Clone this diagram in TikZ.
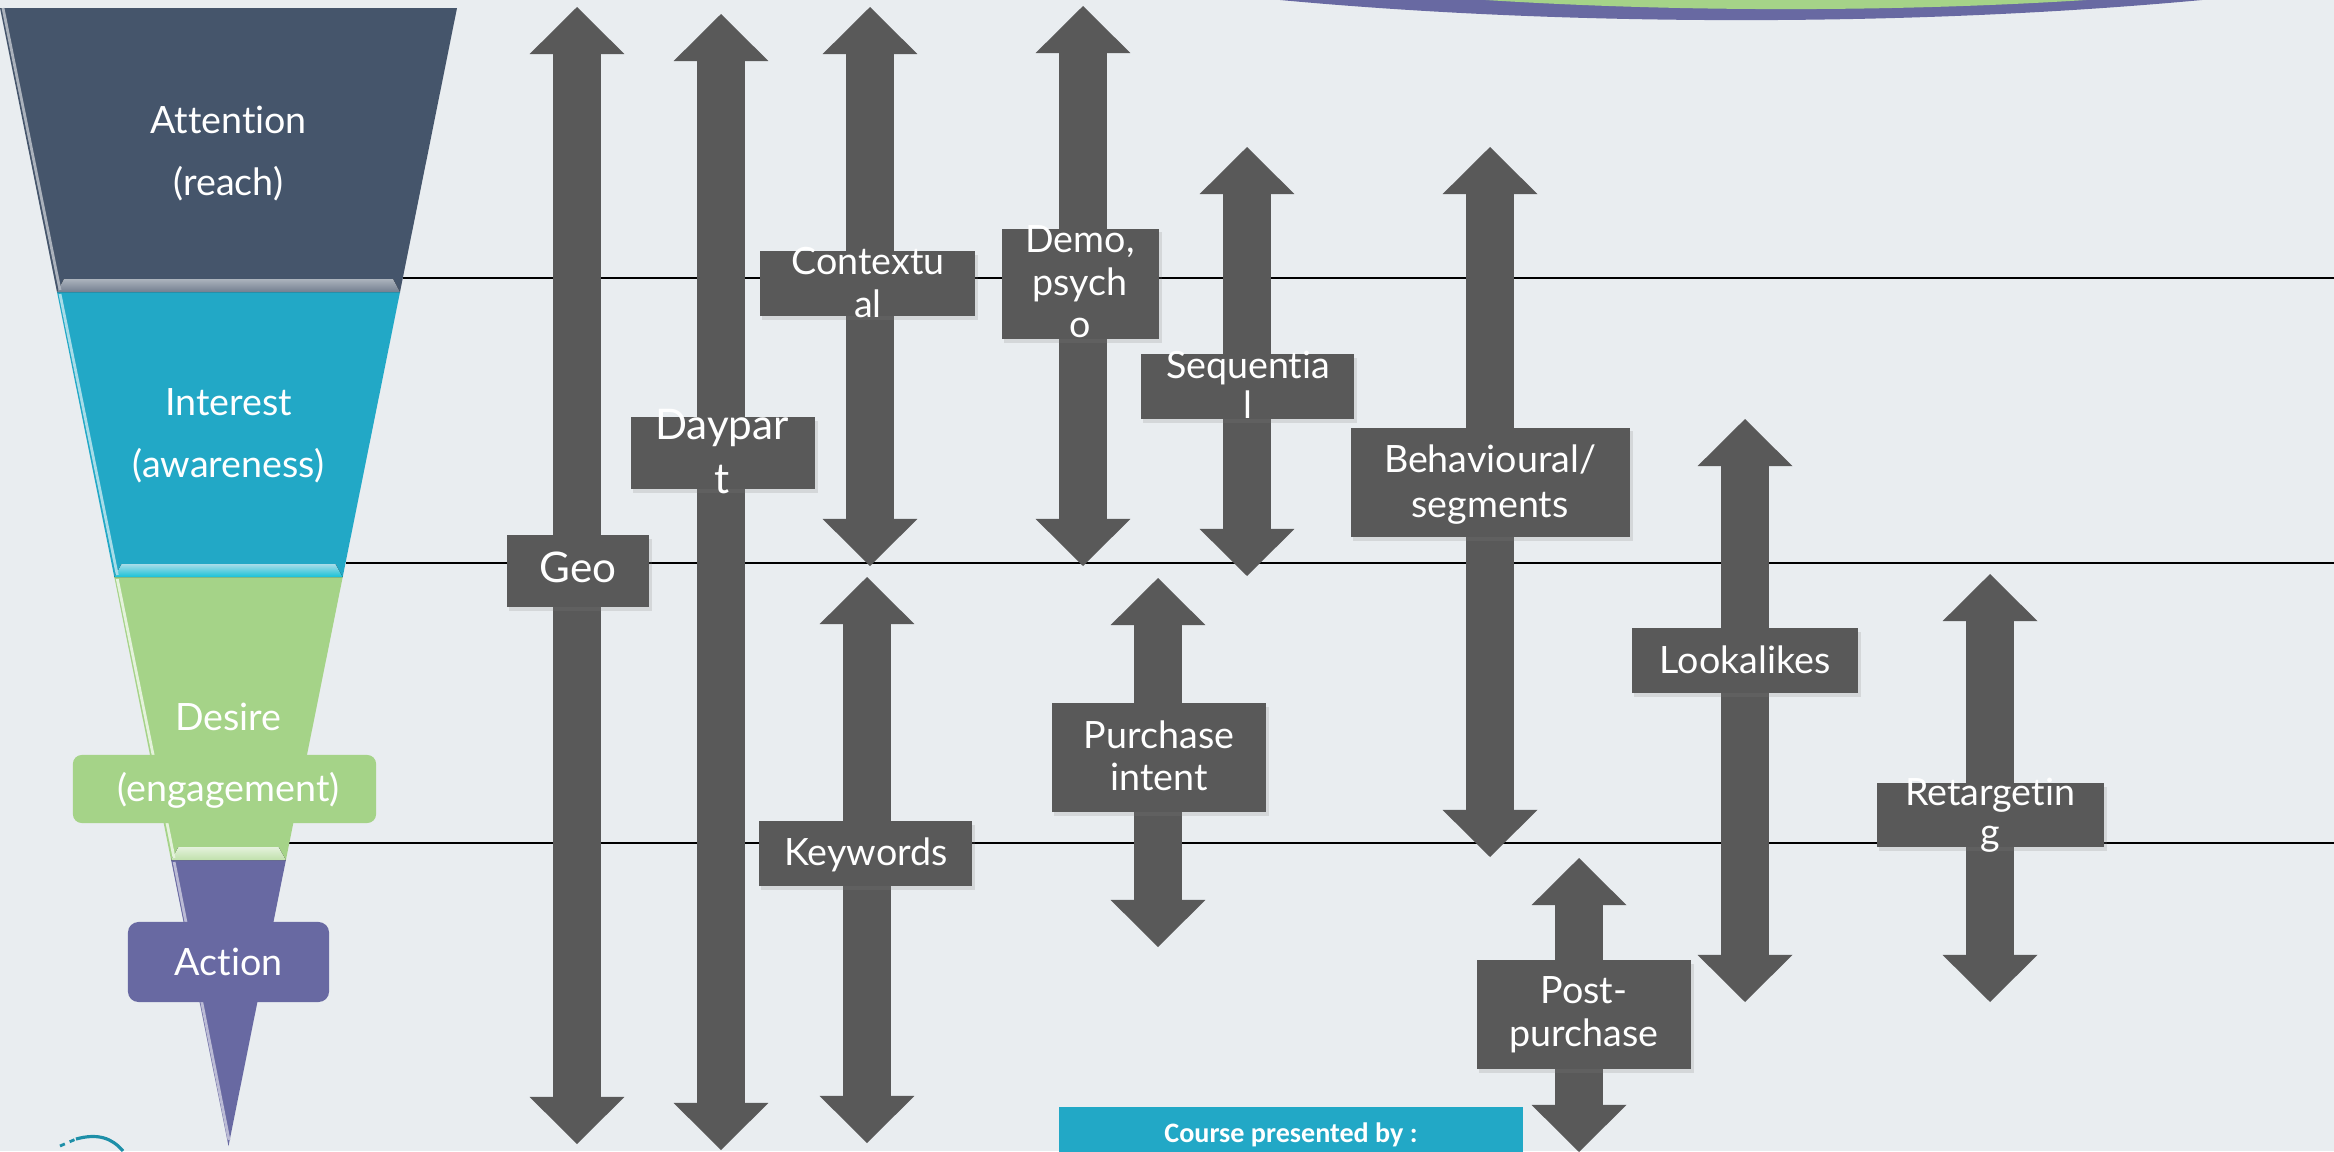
\documentclass[tikz,border=0pt]{standalone}
\usepackage{fontspec}
\setmainfont{Lato}[Ligatures=NoCommon]
\newfontfamily\slidefont{Carlito}
\usetikzlibrary{arrows.meta,shadows}
\definecolor{bgCol}{HTML}{E9EDF0}
\definecolor{tagGrey}{HTML}{595959}
\definecolor{attnCol}{HTML}{45556B}
\definecolor{intrCol}{HTML}{22A8C6}
\definecolor{desiCol}{HTML}{A5D388}
\definecolor{actnCol}{HTML}{6869A2}
\tikzset{
  tag/.style={rectangle,fill=tagGrey,inner sep=0pt,
    drop shadow={shadow xshift=0.7pt,shadow yshift=-1pt,opacity=0.2}},
  tagtext/.style={text=white,inner sep=0pt,align=center,font=\fontsize{10.7}{12.1}\selectfont},
  band/.style={draw=tagGrey,line width=13.9pt,
    {Triangle[width=27pt,length=13.4pt,line width=0pt]}-{Triangle[width=27pt,length=13.4pt,line width=0pt]}},
  level/.style={draw=black,line width=0.5pt},
  stage/.style={text=white,inner sep=0pt,align=center,font=\fontsize{10.7}{17.6}\selectfont},
  pill/.style={rectangle,inner sep=0pt,rounded corners=2.5pt}
}

\begin{document}
\begin{tikzpicture}[x=0.01cm,y=-0.01cm]
  \useasboundingbox (0,0) rectangle (2334,1151);
  \fill[bgCol] (0,0) rectangle (2334,1151);
  \begin{scope}
    \clip (0,0) rectangle (2334,1151);
    \fill[actnCol] (1741,-180) ellipse [x radius=10.53cm,y radius=2cm];
    \fill[desiCol] (1786,-141) ellipse [x radius=8.74cm,y radius=1.5cm];
  \end{scope}
  % levels
  \coordinate (east) at (2334,0);
  \coordinate (lvA) at (403,278);
  \coordinate (lvB) at (346,563);
  \coordinate (lvC) at (289,843);
  \foreach \name in {lvA,lvB,lvC}
    \draw[level] (\name) -- (\name -| east);
  % funnel
  \fill[attnCol] (0,8) -- (457,8) -- (400,292) -- (57,292) -- cycle;
  \fill[intrCol] (57,292) -- (400,292) -- (342.7,577) -- (114.3,577) -- cycle;
  \fill[desiCol] (114.3,577) -- (342.7,577) -- (285.9,860) -- (171.1,860) -- cycle;
  \fill[actnCol] (171.1,860) -- (285.9,860) -- (228.5,1146) -- cycle;
  \fill[top color=attnCol!45!white,bottom color=attnCol!75!white] (64,279) -- (393,279) -- (400,292) -- (57,292) -- cycle;
  \fill[top color=intrCol!40!white,bottom color=intrCol!70!cyan] (121.6,564) -- (335.4,564) -- (342.7,577) -- (114.3,577) -- cycle;
  \fill[top color=desiCol!30!white,bottom color=desiCol!70!white] (178.5,847) -- (278.5,847) -- (285.9,860) -- (171.1,860) -- cycle;
  \draw[attnCol!45!white,line width=0.8pt] (3,8) -- (60,290);
  \draw[intrCol!40!white,line width=0.8pt] (60,294) -- (117.3,575);
  \draw[desiCol!30!white,line width=0.8pt] (117.3,579) -- (174.1,858);
  \draw[actnCol!45!white,line width=0.8pt] (174.1,862) -- (229,1140);
  \node[pill,fill=desiCol,minimum width=3.03cm,minimum height=0.68cm] (engBox) at (224.5,789) {};
  \node[pill,fill=actnCol,minimum width=2.01cm,minimum height=0.8cm,rounded corners=3pt] (actBox) at (228.5,962) {};
  \node[stage,anchor=north] (attn) at (228.5,105) {Attention\\(reach)};
  \node[stage,anchor=north] (intr) at (228.5,388) {Interest\\(awareness)};
  \node[stage,anchor=base] (desi) at (228.5,730) {Desire};
  \node[stage,anchor=base] (engm) at (228.5,801) {(engagement)};
  \node[stage,anchor=base] (actn) at (228.5,975) {Action};
  % targeting arrows
  \foreach \x/\ya/\yb/\name in {577/7/1144/geo, 721/14/1150/daypart, 870/7/566/contextual,
      867/577/1143/keywords, 1083/6/566/demo, 1158/578/947/purchase, 1247/147/576/sequential,
      1490/147/857/behavioural, 1579/858/1152/postpurchase, 1745/419/1002/lookalikes,
      1990/574/1002/retargeting}
  {
    \coordinate (\name T) at (\x,\ya);
    \coordinate (\name B) at (\x,\yb);
    \draw[band] (\name T) -- (\name B);
  }
  \foreach \pos/\w/\h/\name in {{(578,571)/1.42/0.72/geo}, {(723,453)/1.84/0.72/daypart},
      {(867.5,283.5)/2.15/0.65/contextual}, {(1080.5,284)/1.57/1.10/demo},
      {(1247.5,386.5)/2.13/0.65/sequential}, {(1490.5,482.5)/2.79/1.09/behavioural},
      {(865.5,853.5)/2.13/0.65/keywords}, {(1159,757.5)/2.14/1.09/purchase},
      {(1584,1014.5)/2.14/1.09/postpurchase}, {(1745,660.5)/2.26/0.65/lookalikes},
      {(1990.5,815)/2.27/0.64/retargeting}}
    \node[tag,minimum width=\w cm,minimum height=\h cm] (\name Box) at \pos {};
  \node[tagtext,anchor=base,font=\fontsize{12}{15}\selectfont] (geoTxt) at (578,582) {Geo};
  \node[tagtext,anchor=north,font=\fontsize{12}{15.1}\selectfont] (daypartTxt) at (722,409) {Daypar\\t};
  \node[tagtext,anchor=north] (contextualTxt) at (868,247) {Contextu\\al};
  \node[tagtext,anchor=north] (demoTxt) at (1080,225) {Demo,\\psych\\o};
  \node[tagtext,anchor=north,font=\fontsize{10.7}{11.4}\selectfont] (sequentialTxt) at (1248,350) {Sequentia\\l};
  \node[tagtext,anchor=north,font=\fontsize{10.7}{12.8}\selectfont] (behaviouralTxt) at (1490,444) {Behavioural/\\segments};
  \node[tagtext,anchor=base] (keywordsTxt) at (866,865) {Keywords};
  \node[tagtext,anchor=north] (purchaseTxt) at (1159,720) {Purchase\\intent};
  \node[tagtext,anchor=north] (postpurchaseTxt) at (1584,976) {Post-\\purchase};
  \node[tagtext,anchor=base] (lookalikesTxt) at (1745,673) {Lookalikes};
  \node[tagtext,anchor=north,font=\fontsize{10.7}{11.4}\selectfont] (retargetingTxt) at (1990,777) {Retargetin\\g};
  % footer
  \node[rectangle,fill=intrCol,inner sep=0pt,minimum width=4.64cm,minimum height=0.6cm] (courseBox) at (1291,1137) {};
  \node[text=white,inner sep=0pt,anchor=base,font=\slidefont\bfseries\fontsize{8}{10}\selectfont] (courseTxt) at (1291,1142) {Course presented by :};
  \draw[intrCol!85!black,line width=0.9pt] (76,1139) .. controls (98,1133) and (112,1138) .. (123,1151);
  \draw[intrCol!85!black,line width=0.8pt,dash pattern=on 1.5pt off 1.5pt] (60,1146) -- (76,1139);
\end{tikzpicture}
\end{document}
